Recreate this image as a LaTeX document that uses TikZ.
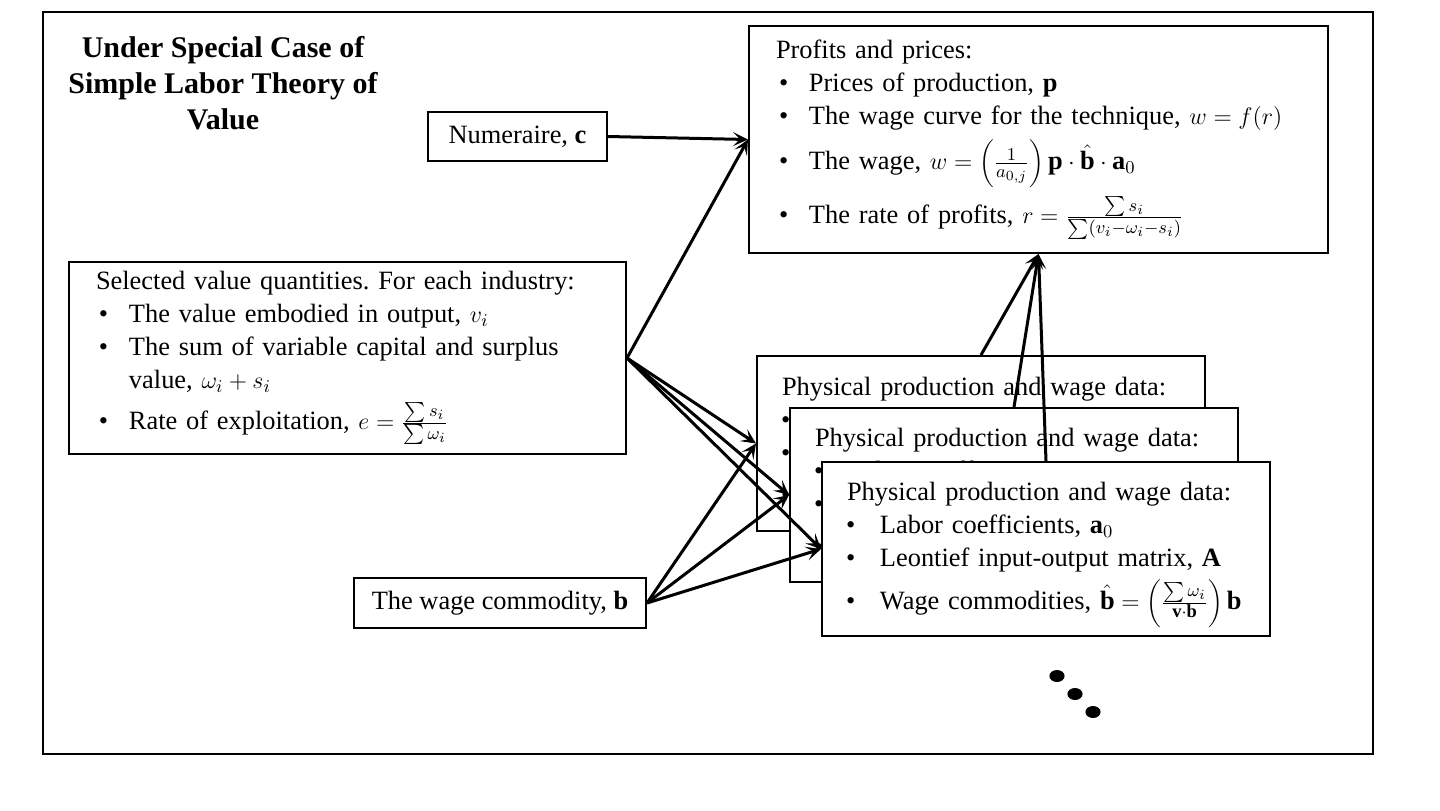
\documentclass[tikz,border=0pt]{standalone}
\usepackage{fontspec}
\setmainfont{Liberation Serif}
\usetikzlibrary{positioning}
\usetikzlibrary{arrows.meta}
\frenchspacing
\tikzstyle{every box} = []
\tikzstyle{box} = [draw, line width=1pt, fill=white, anchor=north west, inner xsep=13.5pt, inner ysep=0pt, align=left, font=\fontsize{13.2}{16.5}\selectfont, every box]
\tikzstyle{sheet} = [box, inner xsep=12.5pt, text width=199pt, minimum height=87pt]
\tikzstyle{link} = [draw, line width=1.5pt, -{Stealth[length=7.5pt,width=7pt,inset=3.5pt]}]
\newcommand{\bul}[2][1.5pt]{\mbox{\makebox[16.5pt][l]{\hspace{#1}\textbullet}#2}}
\newcommand{\physdata}{\rule{0pt}{15pt}Physical production and wage data:\\
  \bul[-0.5pt]{Labor coefficients, $\mathbf{a}_0$}\\
  \bul[-0.5pt]{Leontief input-output matrix, \textbf{A}}\\[2.5pt]
  \bul[-0.5pt]{Wage commodities, $\hat{\mathbf{b}} = \left(\frac{\sum \omega_i}{\mathbf{v}\cdot\mathbf{b}}\right)\mathbf{b}$}}

\begin{document}
\begin{tikzpicture}[x=0.5pt, y=-0.5pt]
  \useasboundingbox (0,0) rectangle (1440,810);
  \draw[line width=1pt] (43,12) rectangle (1373,754);

  \node[font=\bfseries\fontsize{15}{18}\selectfont, align=center] (title) at (223,83)
    {Under Special Case of\\Simple Labor Theory of\\Value};

  % boxes
  \node[box, text width=262.5pt, minimum height=113.5pt] (prices) at (748,25) {Profits and prices:\\
    \bul{Prices of production, \textbf{p}}\\
    \bul{The wage curve for the technique, $w = f(r)$}\\[3.5pt]
    \bul{The wage, $w = \left(\frac{1}{a_{0,j}}\right)\mathbf{p}\cdot\hat{\mathbf{b}}\cdot\mathbf{a}_0$}\\[3.5pt]
    \bul{The rate of profits, $r = \frac{\sum s_i}{\sum(v_i-\omega_i-s_i)}$}};
  \node[box, minimum width=89.5pt, minimum height=24.5pt, inner xsep=0pt, align=center] (numeraire) at (427,111) {Numeraire, \textbf{c}};
  \node[box, text width=251.5pt, minimum height=96pt] (values) at (68,261) {Selected value quantities. For each industry:\\
    \bul{The value embodied in output, $v_i$}\\
    \bul{The sum of variable capital and surplus}\\
    \hspace*{16.5pt}value, $\omega_i + s_i$\\[4pt]
    \bul{Rate of exploitation, $e = \frac{\sum s_i}{\sum \omega_i}$}};
  \node[sheet, minimum height=87.5pt] (phys1) at (756,355) {\physdata};
  \node[sheet] (phys2) at (789,407) {\physdata};
  \node[sheet] (phys3) at (821,461) {\physdata};
  \node[box, minimum width=146pt, minimum height=25pt, inner xsep=0pt, align=center] (wage) at (353,577) {The wage commodity, \textbf{b}};

  % connectors
  \draw[link] (numeraire.east) -- (prices.west);
  \draw[link] (values.east) -- (prices.west);
  \foreach \n in {phys1,phys2,phys3} {
    \draw[link] (values.east) -- (\n.west);
    \draw[link] (wage.east) -- (\n.west);
    \draw[link] (\n.north) -- (prices.south);
  }

  % more sheets
  \foreach \cx/\cy in {1057/676, 1075/694, 1093/712}
    \fill (\cx,\cy) ellipse [x radius=3.8pt, y radius=3pt];
\end{tikzpicture}
\end{document}
